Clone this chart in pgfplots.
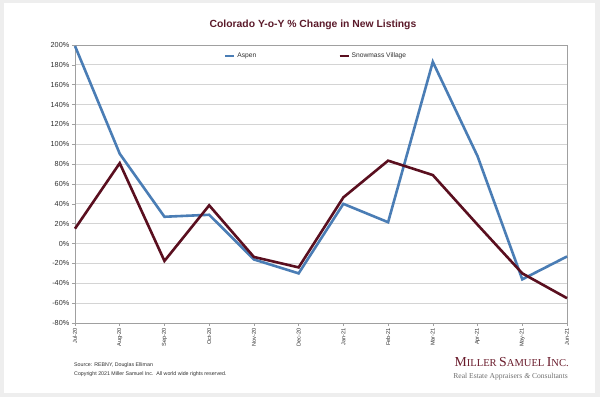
\documentclass[border=0pt]{standalone}
\usepackage{pgfplots}
\pgfplotsset{compat=1.18}
\usepackage{fontspec}
\setmainfont{Liberation Sans}
\newfontfamily\seriffont{Liberation Serif}
\definecolor{aspen}{HTML}{4A7DB5}
\definecolor{snow}{HTML}{5A0F1F}
\definecolor{titlec}{HTML}{5B1A2A}
\definecolor{gridc}{HTML}{D4D4D4}
\definecolor{axc}{HTML}{A0A0A0}
\definecolor{bgc}{HTML}{EEEEEE}
\definecolor{logoc}{HTML}{6A1C2C}
\definecolor{subc}{HTML}{707070}
\definecolor{textc}{HTML}{303030}
\begin{document}
\begin{tikzpicture}
\fill[bgc] (0bp,0bp) rectangle (600bp,397bp);
\useasboundingbox (0bp,0bp) rectangle (600bp,397bp);
\fill[white] (4bp,4bp) rectangle (595bp,394bp);
\node[font=\bfseries\fontsize{10.4}{12}\selectfont, text=titlec] at (313bp,372bp) {Colorado Y-o-Y \% Change in New Listings};
\begin{axis}[
  at={(75bp,74bp)}, anchor=south west,
  scale only axis, width=492bp, height=278bp,
  xmin=0, xmax=11, ymin=-80, ymax=200,
  xtick={0,...,11},
  xticklabels={Jul-20,Aug-20,Sep-20,Oct-20,Nov-20,Dec-20,Jan-21,Feb-21,Mar-21,Apr-21,May-21,Jun-21},
  x tick label style={rotate=90, anchor=east, font=\fontsize{5.6}{6}\selectfont, inner sep=2bp, text=textc},
  ytick={-80,-60,...,200},
  yticklabel={\pgfmathprintnumber{\tick}\%},
  y tick label style={font=\fontsize{7.3}{8}\selectfont, inner sep=2.5bp, text=textc},
  /pgf/number format/assume math mode=true,
  ymajorgrids, grid style={gridc, line width=0.8bp},
  axis line style={axc, line width=0.7bp},
  tick style={axc, line width=0.6bp},
  major tick length=3bp,
  tick align=outside,
  xtick pos=lower, ytick pos=left,
  clip=false,
  legend columns=2,
  legend style={at={(0.49,0.961)}, anchor=center, draw=none, fill=none,
    font=\fontsize{6.7}{7}\selectfont, inner sep=0pt, text=textc,
    /tikz/every even column/.append style={column sep=80bp}},
  legend image code/.code={\draw[#1, line width=2.4bp] (0bp,0bp) -- (9bp,0bp);},
  legend cell align=left,
]
\addplot[aspen, line width=2.6bp] coordinates {
(0,199) (1,90.5) (2,27) (3,29) (4,-16) (5,-30) (6,40) (7,21.5) (8,183) (9,88) (10,-36) (11,-13)
};
\addlegendentry{Aspen}
\addplot[snow, line width=2.6bp] coordinates {
(0,15) (1,81) (2,-17.5) (3,38.5) (4,-13.5) (5,-24) (6,46.5) (7,83.5) (8,69) (9,19) (10,-30) (11,-55)
};
\addlegendentry{Snowmass Village}
\end{axis}
\node[anchor=west, font=\fontsize{5.3}{6}\selectfont, inner sep=0, text=textc] at (74bp,32bp) {Source: REBNY, Douglas Elliman};
\node[anchor=west, font=\fontsize{5.3}{6}\selectfont, inner sep=0, text=textc] at (74bp,23bp) {Copyright 2021 Miller Samuel Inc.\ \ All world wide rights reserved.};
\node[anchor=east, text=logoc, inner sep=0, font=\seriffont] at (569bp,35bp) {{\fontsize{13.8}{14}\selectfont M}{\fontsize{10.6}{11}\selectfont ILLER} {\fontsize{13.8}{14}\selectfont S}{\fontsize{10.6}{11}\selectfont AMUEL} {\fontsize{13.8}{14}\selectfont I}{\fontsize{10.6}{11}\selectfont NC.}};
\node[anchor=east, text=subc, inner sep=0, font=\seriffont\fontsize{7.6}{8}\selectfont] at (568bp,20bp) {Real Estate Appraisers \textit{\&} Consultants};
\end{tikzpicture}
\end{document}
